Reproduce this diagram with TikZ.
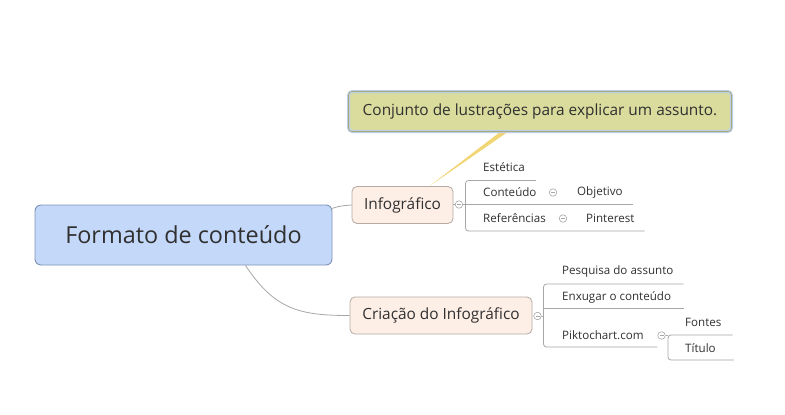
\documentclass[tikz,border=0pt]{standalone}
\usepackage{fontspec}
\setmainfont{Open Sans}
\usetikzlibrary{calc}
\definecolor{txt}{HTML}{303030}
\definecolor{mainfill}{HTML}{C4D8FA}
\definecolor{mainborder}{HTML}{7E93B6}
\definecolor{subfill}{HTML}{FDEEE6}
\definecolor{subborder}{HTML}{B5AAA4}
\definecolor{calfill}{HTML}{D9DC9C}
\definecolor{calborder}{HTML}{A9AC78}
\definecolor{halo}{HTML}{B9CDE6}
\definecolor{pointer}{HTML}{F2D675}
\definecolor{linec}{HTML}{A6A6A6}
\tikzset{
  mainbox/.style={draw=mainborder, fill=mainfill, line width=0.9pt, rounded corners=6pt,
    minimum width=297pt, minimum height=60pt, inner sep=0pt, text=txt,
    font=\fontsize{23.4}{27}\selectfont},
  subbox/.style={draw=subborder, fill=subfill, line width=0.8pt, rounded corners=5pt,
    minimum height=37pt, inner sep=0pt, text=txt, font=\fontsize{15.4}{18}\selectfont},
  leaf/.style={anchor=west, inner sep=0pt, text=txt, font=\fontsize{11.6}{14}\selectfont},
  conn/.style={draw=linec, line width=0.8pt},
  brk/.style={draw=linec, line width=0.8pt, rounded corners=3pt},
  collapse/.style={circle, draw=linec, fill=white, line width=0.6pt, minimum size=7.5pt, inner sep=0pt,
    path picture={\draw[linec, line width=0.6pt] ([xshift=-2pt]path picture bounding box.center) -- ([xshift=2pt]path picture bounding box.center);}},
}
\begin{document}
\begin{tikzpicture}[x=1pt,y=-1pt]
\useasboundingbox[fill=white] (0,0) rectangle (785,415);

% main topic
\node[mainbox] (main) at (183.5,235) {Formato de conteúdo};

% subtopics
\node[subbox, minimum width=101pt] (info) at (402.5,205) {Infográfico};
\node[subbox, minimum width=182pt] (crea) at (441,315.5) {Criação do Infográfico};

% connectors from main
\draw[conn] ($(main.north east)+(-1,4)$) .. controls (340,206) .. (info.west);
\draw[conn] ($(main.south)+(62,0)$) .. controls (275,310) and (300,315.5) .. (crea.west);

% callout pointer
\fill[pointer] ($(info.north)+(27,0)$) -- ($(info.north)+(100,-56)$) -- ($(info.north)+(108,-56)$) -- cycle;

% callout
\node[draw=halo, fill=calfill, line width=3pt, rounded corners=4pt, minimum width=383pt, minimum height=40pt,
  inner sep=0pt, text=txt, font=\fontsize{15.4}{18}\selectfont] (callout) at (540,111.5) {Conjunto de lustrações para explicar um assunto.};
\draw[calborder, line width=0.6pt, rounded corners=3pt] ($(callout.north west)+(1.5,1.5)$) rectangle ($(callout.south east)+(-1.5,-1.5)$);

% Infográfico children
\node[collapse] (ic) at (459,204.5) {};
\draw[conn] (info.east |- ic) -- (ic.west);
\coordinate (ib) at (465.5,204.5);
\draw[conn] (ic.east) -- (ib);
\node[leaf] (est) at (483,167) {Estética};
\node[leaf] (cont) at (483,192.5) {Conteúdo};
\node[leaf] (ref) at (483,218.5) {Referências};
\node[collapse] (cc) at (553,192.5) {};
\node[collapse] (rc) at (563,218.5) {};
\node[leaf] (obj) at (577,192.5) {Objetivo};
\node[leaf] (pin) at (586,218.5) {Pinterest};
\draw[brk] ($(est.east)+(11,13.5)$) -- ($(est.west)+(-17.5,13.5)$) -- ($(ref.west)+(-17.5,12.5)$) -- ($(pin.east)+(10,12.5)$);
\draw[conn] ($(cont.west)+(-17.5,11.5)$) -- ($(obj.east)+(10,11.5)$);

% Criação children
\node[collapse] (crc) at (537.5,316) {};
\draw[conn] (crc.east) -- (543.5,316);
\node[leaf] (pes) at (562,271) {Pesquisa do assunto};
\node[leaf] (enx) at (562,297.5) {Enxugar o conteúdo};
\node[leaf] (pik) at (562,335) {Piktochart.com};
\node[collapse] (pc) at (661.5,335.5) {};
\node[leaf] (fon) at (685,322.5) {Fontes};
\node[leaf] (tit) at (685,348) {Título};
\draw[brk] ($(pes.east)+(10,13)$) -- ($(pes.west)+(-18.5,13)$) -- ($(pik.west)+(-18.5,12)$) -- ($(pc.west)+(0,11.5)$);
\draw[conn] ($(enx.west)+(-18.5,10.5)$) -- ($(enx.east)+(13,10.5)$);
\draw[conn] (pc.east) -- (668,335.5);
\draw[brk] ($(fon.east)+(11,12.5)$) -- ($(fon.west)+(-17,12.5)$) -- ($(tit.west)+(-17,12)$) -- ($(tit.east)+(18,12)$);
\end{tikzpicture}
\end{document}
